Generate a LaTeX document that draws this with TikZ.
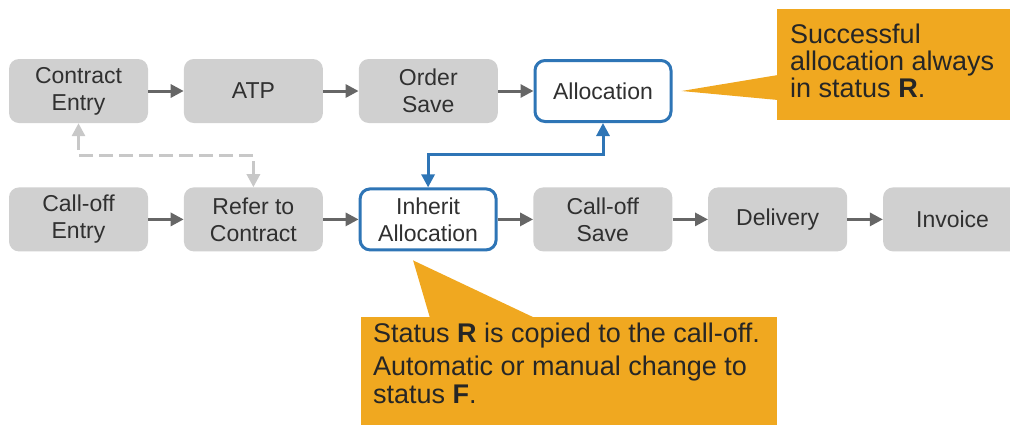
\documentclass[tikz,border=0pt]{standalone}
\usepackage{fontspec}
\setmainfont{Liberation Sans}
\usepackage{xcolor}
\usetikzlibrary{positioning,arrows.meta}

\definecolor{boxgray}{HTML}{D0D0D0}
\definecolor{arrowgray}{HTML}{666666}
\definecolor{dashgray}{HTML}{C8C8C8}
\definecolor{allocblue}{HTML}{2E75B6}
\definecolor{noteorange}{HTML}{F0A820}
\definecolor{textgray}{HTML}{303030}

\begin{document}
\begin{tikzpicture}[x=1pt, y=-1pt, node distance={35.5pt},
    >={Triangle[length=13pt, width=13pt]},
    main/.style = {rectangle, rounded corners=10pt, fill=boxgray, text=textgray, minimum width=139pt, minimum height=64pt, inner sep=0pt, align=center, font=\fontsize{23}{27}\selectfont},
    hold/.style = {main, fill=white, draw=allocblue, line width=3pt, minimum width=136pt, minimum height=61pt},
    flow/.style = {->, draw=arrowgray, line width=3pt},
    note/.style = {fill=noteorange},
    notetext/.style = {text=black!85, align=left, inner sep=0pt, font=\fontsize{27}{27}\selectfont}]
    \useasboundingbox (0,0) rectangle (1010,424);
    \clip (0,0) rectangle (1010,424);

    \node[main] (ce) at (78.5,91) {Contract\\Entry};
    \node[main] (atp) [right=of ce] {ATP};
    \node[main] (os) [right=of atp] {Order\\Save};
    \node[hold] (al) [right=of os] {Allocation};

    \node[main] (coe) [below=64pt of ce] {Call-off\\Entry};
    \node[main] (rc) [right=of coe] {Refer to\\Contract};
    \node[hold] (ia) [right=of rc] {Inherit\\Allocation};
    \node[main] (cos) [right=of ia] {Call-off\\Save};
    \node[main] (del) [right=of cos] {Delivery};
    \node[main] (inv) [right=of del] {Invoice};

    \path (ce) edge[flow] (atp);
    \path (atp) edge[flow] (os);
    \path (os) edge[flow] (al);
    \path (coe) edge[flow] (rc);
    \path (rc) edge[flow] (ia);
    \path (ia) edge[flow] (cos);
    \path (cos) edge[flow] (del);
    \path (del) edge[flow] (inv);

    \draw[dashgray, line width=3pt, dash pattern=on 14pt off 6pt, <->] (rc.north) -- ++(0,-32) -| (ce.south);
    \draw[allocblue, line width=3pt, <->] (ia.north) -- ++(0,-33) -| (al.south);

    % callouts
    \coordinate (tipR) at ([xshift=9pt]al.east);
    \fill[note] (777,9) rectangle (1012,120);
    \fill[note] (tipR) -- (778,75) -- (778,100) -- cycle;
    \node[notetext, anchor=north west] (noteR) at (790,23.5) {Successful\\allocation always\\in status \textbf{R}.};

    \coordinate (tipF) at ([shift={(-15,9)}]ia.south);
    \fill[note] (361,317) rectangle (777,430);
    \fill[note] (tipF) -- (430,318) -- (535,318) -- cycle;
    \node[notetext, anchor=north west, font=\fontsize{27}{28}\selectfont] (noteF) at (373,323) {Status \textbf{R} is copied to the call-off.\\[5pt]Automatic or manual change to\\status \textbf{F}.};
\end{tikzpicture}
\end{document}
